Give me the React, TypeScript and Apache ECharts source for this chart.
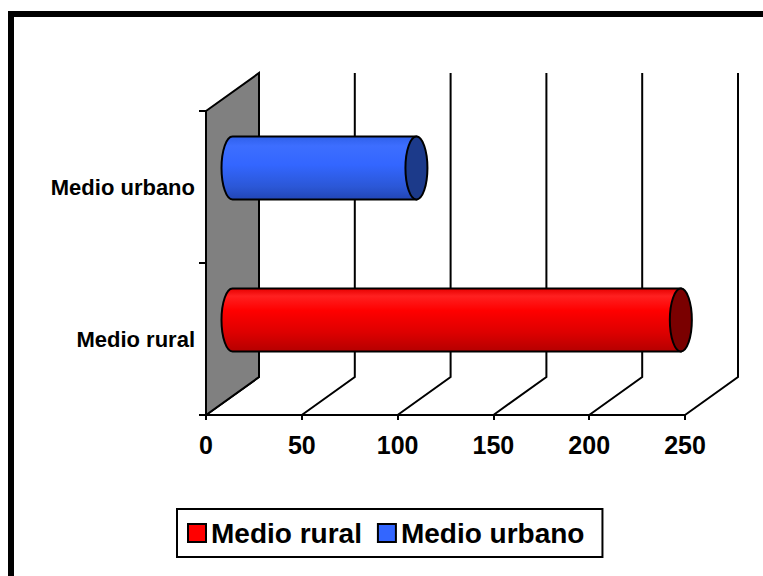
import React, { useEffect, useRef } from "react";
import * as echarts from "echarts";

const categories = ["Medio rural", "Medio urbano"];
const seriesNames = ["Medio rural", "Medio urbano"];
const ruralValues = [234];
const urbanValues = [96];
const xTicks = [0, 50, 100, 150, 200, 250];

const DX = 53;
const DY = -38;
const FONT = "'Liberation Sans', Arial, sans-serif";

const bodyGradients: Record<string, [number, string][]> = {
  "Medio rural": [
    [0, "#e60000"],
    [0.12, "#ff2020"],
    [0.35, "#ff0000"],
    [0.7, "#dd0000"],
    [1, "#b50000"],
  ],
  "Medio urbano": [
    [0, "#2f60ea"],
    [0.15, "#3d6eff"],
    [0.45, "#3366ff"],
    [0.8, "#2b57d6"],
    [1, "#2246b5"],
  ],
};
const capColors: Record<string, string> = {
  "Medio rural": "#7a0000",
  "Medio urbano": "#1c3a8a",
};
const legendColors: Record<string, string> = {
  "Medio rural": "#ff0000",
  "Medio urbano": "#3366ff",
};

function cylinderSeries(name: string, values: number[]) {
  return {
    type: "custom",
    name,
    clip: false,
    itemStyle: { color: legendColors[name] },
    encode: { x: 0, y: 1 },
    data: values.map((v) => [v, name]),
    renderItem: (params: any, api: any) => {
      const v = api.value(0);
      const c = api.value(1);
      const p0 = api.coord([0, c]);
      const p1 = api.coord([v, c]);
      const band = api.size([0, 1])[1];
      const ry = band * 0.207;
      const rx = 11;
      const x0 = p0[0] + DX / 2;
      const x1 = p1[0] + DX / 2;
      const cy = p0[1] + DY / 2;
      const body = `M${x0},${cy - ry} L${x1},${cy - ry} L${x1},${cy + ry} L${x0},${cy + ry} A${rx},${ry} 0 0 1 ${x0},${cy - ry} Z`;
      const cap = `M${x1},${cy - ry} A${rx},${ry} 0 0 1 ${x1},${cy + ry} A${rx},${ry} 0 0 1 ${x1},${cy - ry} Z`;
      const stops = bodyGradients[name].map(([o, col]) => ({ offset: o, color: col }));
      return {
        type: "group",
        children: [
          {
            type: "path",
            shape: { pathData: body },
            style: {
              fill: new echarts.graphic.LinearGradient(0, 0, 0, 1, stops),
              stroke: "#000",
              lineWidth: 2,
            },
          },
          {
            type: "path",
            shape: { pathData: cap },
            style: { fill: capColors[name], stroke: "#000", lineWidth: 2 },
          },
        ],
      };
    },
  };
}

export default function App() {
  const ref = useRef<HTMLDivElement>(null);
  useEffect(() => {
    if (!ref.current) return;
    const chart = echarts.init(ref.current, undefined, { renderer: "svg" });
    const option: any = {
      animation: false,
      backgroundColor: "#fff",
      graphic: [
        {
          type: "rect",
          shape: { x: 11, y: 14, width: 800, height: 620 },
          style: { fill: "none", stroke: "#000", lineWidth: 6 },
          silent: true,
        },
      ],
      grid: { left: 206, top: 111, width: 479, height: 304 },
      xAxis: {
        type: "value",
        min: 0,
        max: 250,
        interval: 50,
        splitLine: { show: false },
        axisLine: { show: true, lineStyle: { color: "#000", width: 2 } },
        axisTick: { show: true, length: 5, lineStyle: { color: "#000", width: 2 } },
        axisLabel: {
          color: "#000",
          fontSize: 25,
          fontWeight: "bold",
          fontFamily: FONT,
          margin: 17,
          formatter: (v: number) => (xTicks.includes(v) ? String(v) : ""),
        },
      },
      yAxis: {
        type: "category",
        data: categories,
        axisLine: { show: true, lineStyle: { color: "#000", width: 2 } },
        axisTick: { show: true, length: 7, lineStyle: { color: "#000", width: 2 } },
        splitLine: { show: false },
        axisLabel: {
          color: "#000",
          fontSize: 22,
          fontWeight: "bold",
          fontFamily: FONT,
          margin: 11,
        },
      },
      legend: {
        data: seriesNames,
        left: 177,
        top: 509,
        icon: "rect",
        itemWidth: 18,
        itemHeight: 18,
        itemGap: 15,
        padding: [10, 18, 10, 10],
        borderColor: "#000",
        borderWidth: 2,
        itemStyle: { borderColor: "#000", borderWidth: 2 },
        textStyle: {
          color: "#000",
          fontSize: 28,
          fontWeight: "bold",
          fontFamily: FONT,
        },
      },
      series: [
        {
          type: "custom",
          name: "grid3d",
          clip: false,
          silent: true,
          encode: { x: 0, y: 1 },
          data: xTicks.map((v) => [v, 0]),
          renderItem: (params: any, api: any) => {
            const cs = params.coordSys;
            const top = cs.y;
            const bottom = cs.y + cs.height;
            const x = api.coord([api.value(0), 0])[0];
            return {
              type: "polyline",
              shape: {
                points: [
                  [x, bottom],
                  [x + DX, bottom + DY],
                  [x + DX, top + DY],
                ],
              },
              style: { stroke: "#000", lineWidth: 2, fill: null },
            };
          },
        },
        {
          type: "custom",
          name: "wall",
          clip: false,
          silent: true,
          encode: { x: 0, y: 1 },
          data: [[0, 0]],
          renderItem: (params: any, api: any) => {
            const cs = params.coordSys;
            const top = cs.y;
            const bottom = cs.y + cs.height;
            const x = api.coord([api.value(0), 0])[0];
            return {
              type: "polygon",
              shape: {
                points: [
                  [x, top],
                  [x + DX, top + DY],
                  [x + DX, bottom + DY],
                  [x, bottom],
                ],
              },
              style: { fill: "#808080", stroke: "#000", lineWidth: 2 },
            };
          },
        },
        cylinderSeries("Medio rural", ruralValues),
        cylinderSeries("Medio urbano", urbanValues),
      ],
    };
    chart.setOption(option);
    return () => chart.dispose();
  }, []);
  return (
    <div
      ref={ref}
      style={{ position: "absolute", left: 0, top: 0, width: 763, height: 576 }}
    />
  );
}
